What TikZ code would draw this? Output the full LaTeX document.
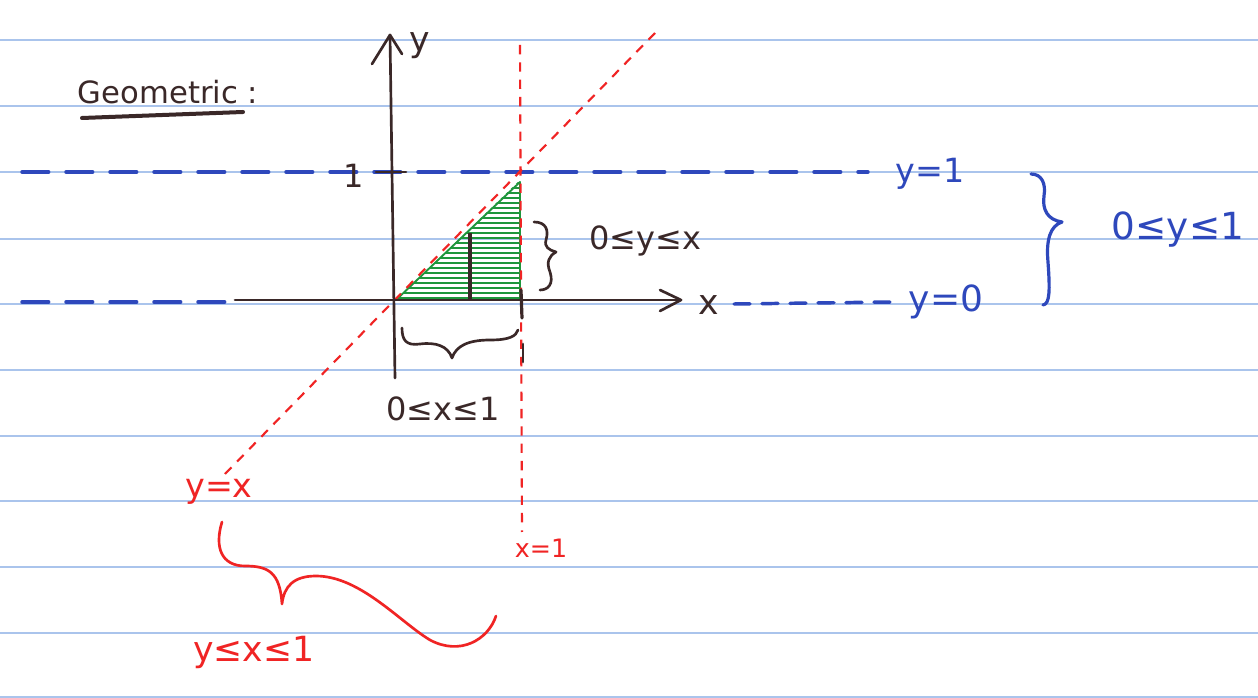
\documentclass[tikz,border=0pt]{standalone}
\usepackage{fontspec}
\setmainfont{DejaVu Sans}
\definecolor{ruleblue}{RGB}{170,196,236}
\definecolor{inkbrown}{RGB}{58,40,40}
\definecolor{penblue}{RGB}{46,72,188}
\definecolor{penred}{RGB}{240,36,36}
\definecolor{pengreen}{RGB}{30,150,60}
\begin{document}
\begin{tikzpicture}[x=0.75pt,y=-0.75pt,
  rule/.style={draw=ruleblue, line width=1.3pt},
  ink/.style={draw=inkbrown, line width=2pt, line cap=round, line join=round},
  bluedash/.style={draw=penblue, line width=2.6pt, dash pattern=on 20pt off 13pt, line cap=round},
  reddash/.style={draw=penred, line width=1.6pt, dash pattern=on 7pt off 6pt},
  redink/.style={draw=penred, line width=2pt, line cap=round, line join=round},
  blueink/.style={draw=penblue, line width=2.4pt, line cap=round, line join=round},
  lbl/.style={inner sep=0pt, font=\fontsize{24}{28}\selectfont},
  big/.style={inner sep=0pt, font=\fontsize{26}{30}\selectfont},
]
\useasboundingbox (0,0) rectangle (1258,698);
\fill[white] (0,0) rectangle (1258,698);
% notebook rules
\foreach \y in {40,106,172,239,304,370,436,501,567,633,697}
  \draw[rule] (0,\y) -- (1258,\y);

% title
\node[lbl, text=inkbrown, font=\fontsize{23}{27}\selectfont] (title) at (168,92) {Geometric :};
\draw[inkbrown, line width=3pt, line cap=round] (82,118) -- (243,112);

% green region with hatching
\begin{scope}
  \clip (396,300) -- (520,180) -- (520,299) -- cycle;
  \foreach \y in {183,188,...,300}
    \draw[pengreen, line width=1.6pt] (390,\y) -- (526,\y);
\end{scope}
\draw[pengreen, line width=1.4pt, line join=round] (396,300) -- (520,182) -- (520,298) -- cycle;

% blue dashed lines
\coordinate (b1l) at (22,172);
\coordinate (b1r) at (868,172);
\draw[bluedash] (b1l) -- (b1r);
\coordinate (b0l) at (22,302);
\coordinate (b0m) at (236,302);
\draw[bluedash] (b0l) -- (b0m);
\coordinate (b0a) at (734,304);
\coordinate (b0b) at (892,302);
\draw[bluedash, dash pattern=on 12pt off 9pt] (b0a) -- (b0b);

% red dashed lines
\coordinate (dA) at (225,474);
\coordinate (dB) at (655,33);
\draw[reddash] (dA) -- (dB);
\coordinate (vA) at (520,45);
\coordinate (vB) at (522,532);
\draw[reddash] (vA) -- (vB);

% axes
\coordinate (ybot) at (395,378);
\coordinate (ytop) at (390,35);
\draw[ink] (ybot) -- (ytop);
\draw[ink] (372,64) -- (ytop) -- (402,54);
\coordinate (xl) at (235,300);
\coordinate (xr) at (681,300);
\draw[ink] (xl) -- (xr);
\draw[ink] (660,290) -- (xr) -- (660,311);
\node[big, text=inkbrown] (ylab) at (420,46) {y};
\node[big, text=inkbrown] (xlab) at (709,305) {x};
% ticks
\draw[ink] (376,172) -- (406,172);
\node[lbl, text=inkbrown] (one) at (354,176) {1};
\draw[ink, line width=2.4pt] (521,290) -- (522,318);
\draw[ink, line width=2.2pt] (523,344) -- (523,362);
% strip
\draw[inkbrown, line width=3.2pt] (470,233) -- (470,300);

% black braces
\draw[ink] (534,222) .. controls (546,222) and (549,230) .. (546,240)
  .. controls (544,247) and (549,250) .. (556,252)
  .. controls (549,256) and (546,262) .. (550,272)
  .. controls (554,284) and (548,290) .. (540,290);
\node[lbl, text=inkbrown] (ylex) at (645,241) {0≤y≤x};
\draw[ink] (402,328) .. controls (402,340) and (406,346) .. (420,344)
  .. controls (436,342) and (448,346) .. (452,358)
  .. controls (456,346) and (468,340) .. (490,340)
  .. controls (510,340) and (516,336) .. (518,330);
\node[lbl, text=inkbrown] (xint) at (443,409) {0≤x≤1};

% blue labels and brace
\node[lbl, text=penblue, font=\fontsize{25}{29}\selectfont] (yone) at (930,174) {y=1};
\node[lbl, text=penblue, font=\fontsize{27}{31}\selectfont] (yzero) at (946,302) {y=0};
\draw[blueink] (1031,174) .. controls (1042,174) and (1046,184) .. (1044,196)
  .. controls (1042,210) and (1048,220) .. (1062,222)
  .. controls (1050,226) and (1046,240) .. (1048,262)
  .. controls (1050,290) and (1050,304) .. (1043,305);
\node[lbl, text=penblue, font=\fontsize{28}{32}\selectfont] (yint) at (1178,230) {0≤y≤1};

% red labels and brace
\node[lbl, text=penred, font=\fontsize{25}{29}\selectfont] (yeqx) at (219,492) {y=x};
\node[lbl, text=penred, font=\fontsize{19}{23}\selectfont] (xeq1) at (541,548) {x=1};
\draw[redink] (222,522) .. controls (214,548) and (222,566) .. (245,566)
  .. controls (268,566) and (280,572) .. (282,604)
  .. controls (284,586) and (294,576) .. (316,576)
  .. controls (360,576) and (400,622) .. (430,640)
  .. controls (460,656) and (488,640) .. (496,616);
\node[lbl, text=penred, font=\fontsize{26}{30}\selectfont] (yxint) at (254,652) {y≤x≤1};
\end{tikzpicture}
\end{document}
